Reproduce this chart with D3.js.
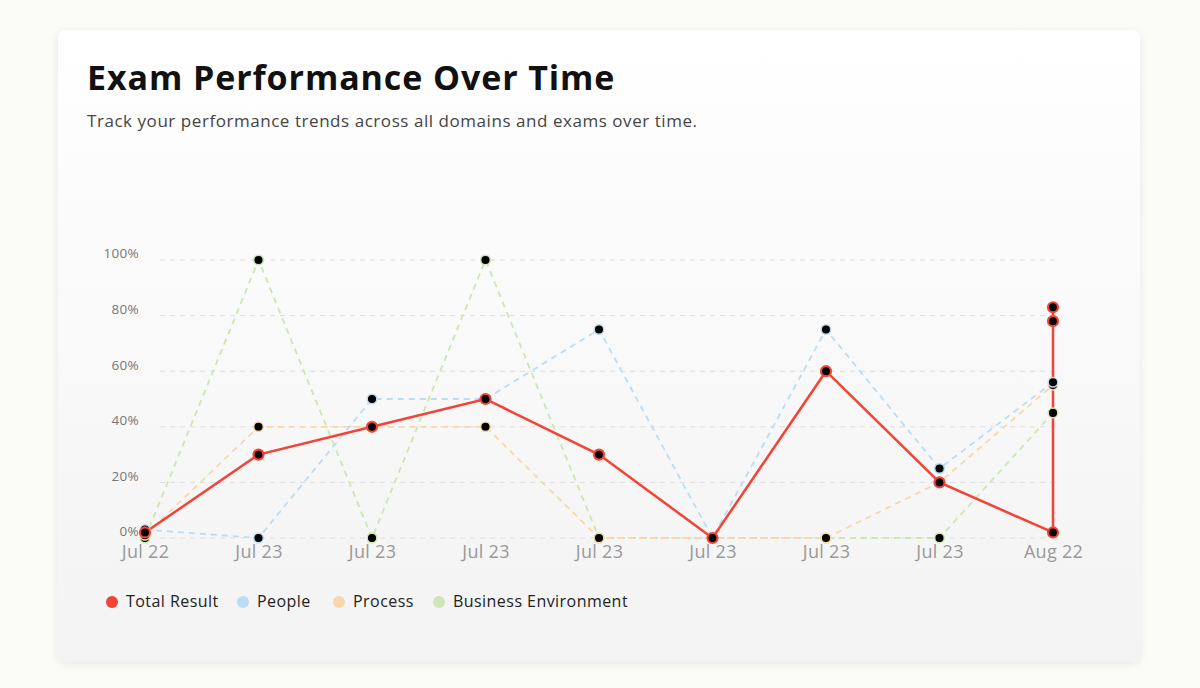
<!DOCTYPE html>
<html><head><meta charset="utf-8">
<script src="https://cdn.jsdelivr.net/npm/d3@7"></script>
<style>
body{margin:0;background:#fbfbf8;font-family:"Open Sans",sans-serif;}
</style></head><body>
<svg id="c" width="1200" height="688"></svg>
<script>
const xLabels = ["Jul 22","Jul 23","Jul 23","Jul 23","Jul 23","Jul 23","Jul 23","Jul 23","Aug 22"];
const yTicks = [0,20,40,60,80,100];
const totalX = [0,1,2,3,4,5,6,7,8,8,8];
const totalVals = [2,30,40,50,30,0,60,20,2,78,83];
const peopleVals = [3,0,50,50,75,0,75,25,56];
const processVals = [1,40,40,40,0,0,0,20,55];
const businessVals = [0,100,0,100,0,0,0,0,45];
const seriesNames = ["Total Result","People","Process","Business Environment"];
const seriesColors = ["#f44336","#bcdcf2","#f5d9ad","#cce6b4"];

const svg = d3.select("#c");
const defs = svg.append("defs");
const g1 = defs.append("linearGradient").attr("id","bg").attr("x1",0).attr("y1",0).attr("x2",0).attr("y2",1);
g1.append("stop").attr("offset","0%").attr("stop-color","#ffffff");
g1.append("stop").attr("offset","100%").attr("stop-color","#f3f3f3");
const f = defs.append("filter").attr("id","sh").attr("x","-5%").attr("y","-5%").attr("width","110%").attr("height","110%");
f.append("feDropShadow").attr("dx",0).attr("dy",2).attr("stdDeviation",4).attr("flood-color","#000").attr("flood-opacity",0.08);
svg.append("rect").attr("x",58).attr("y",30).attr("width",1082).attr("height",632).attr("rx",8).attr("fill","url(#bg)").attr("filter","url(#sh)");

svg.append("text").attr("x",87).attr("y",90).attr("font-size",34).attr("font-weight",700).attr("letter-spacing",0.9).attr("fill","#111").text("Exam Performance Over Time");
svg.append("text").attr("x",87).attr("y",127).attr("font-size",17).attr("letter-spacing",0.55).attr("fill","#444").text("Track your performance trends across all domains and exams over time.");

const x = d3.scaleLinear().domain([0,8]).range([145,1053]);
const y = d3.scaleLinear().domain([0,100]).range([538,260]);

const grid = svg.append("g");
yTicks.forEach(t=>{
  grid.append("line").attr("x1",160).attr("x2",1060).attr("y1",y(t)).attr("y2",y(t)).attr("stroke","#ddd").attr("stroke-dasharray","5,5");
});
const ya = svg.append("g").attr("transform","translate(142,0)").call(d3.axisLeft(y).tickValues(yTicks).tickFormat(d=>d+"%").tickSize(0));
ya.select(".domain").remove();
ya.selectAll("text").attr("font-size",13.5).attr("letter-spacing",0.3).attr("fill","#777").attr("font-family","'Open Sans',sans-serif").attr("dy","-0.15em");
const xa = svg.append("g").attr("transform","translate(0,544)").call(d3.axisBottom(x).tickValues(d3.range(9)).tickFormat(i=>xLabels[i]).tickSize(0));
xa.select(".domain").remove();
xa.selectAll("text").attr("font-size",18).attr("letter-spacing",0.3).attr("fill","#999").attr("font-family","'Open Sans',sans-serif").attr("dy","0.6em");

const others = [[peopleVals,1],[processVals,2],[businessVals,3]];
const line = d3.line().x(d=>x(d[0])).y(d=>y(d[1]));
others.slice().reverse().forEach(([vals,ci])=>{
  const pts = vals.map((v,i)=>[i,v]);
  svg.append("path").attr("d",line(pts)).attr("fill","none").attr("stroke",seriesColors[ci]).attr("stroke-width",1.8).attr("stroke-dasharray","6,5");
});
const tpts = totalVals.map((v,i)=>[totalX[i],v]);
svg.append("path").attr("d",line(tpts)).attr("fill","none").attr("stroke",seriesColors[0]).attr("stroke-width",2.5);
others.slice().reverse().forEach(([vals,ci])=>{
  svg.append("g").selectAll("circle").data(vals).join("circle").attr("cx",(d,i)=>x(i)).attr("cy",d=>y(d)).attr("r",4.8).attr("fill","#000").attr("stroke",seriesColors[ci]).attr("stroke-width",1.5);
});
svg.append("g").selectAll("circle").data(tpts).join("circle").attr("cx",d=>x(d[0])).attr("cy",d=>y(d[1])).attr("r",5).attr("fill","#000").attr("stroke",seriesColors[0]).attr("stroke-width",2.2);

const lx = [112,243,339,439];
seriesNames.forEach((n,i)=>{
  svg.append("circle").attr("cx",lx[i]).attr("cy",602).attr("r",6).attr("fill",seriesColors[i]);
  svg.append("text").attr("x",lx[i]+14).attr("y",607).attr("font-size",16).attr("letter-spacing",0.45).attr("fill","#222").text(n);
});
</script></body></html>
